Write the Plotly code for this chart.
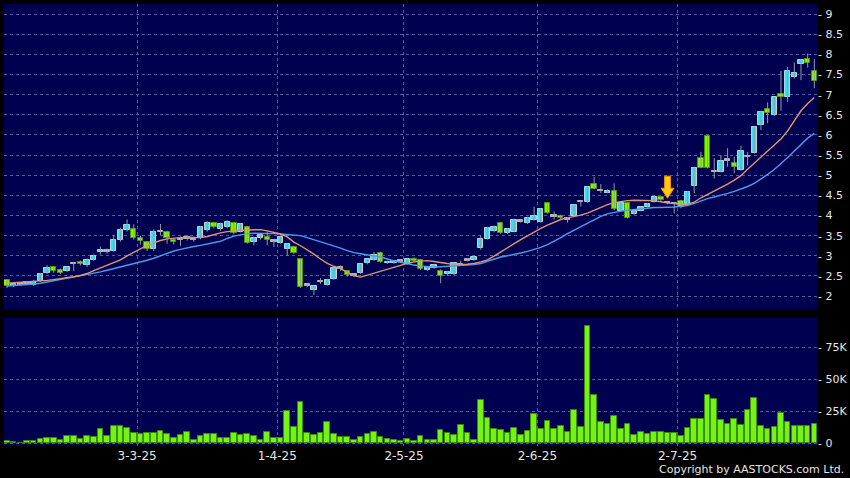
import plotly.graph_objects as go

# ---------------- data ----------------
opens = [2.40, 2.26, 2.30, 2.32, 2.28, 2.37, 2.57, 2.71, 2.66, 2.62,
         2.81, 2.85, 2.77, 2.90, 3.10, 3.12, 3.12, 3.40, 3.64, 3.66,
         3.44, 3.34, 3.17, 3.60, 3.58, 3.39, 3.41, 3.44, 3.40, 3.43,
         3.64, 3.81, 3.66, 3.71, 3.81, 3.60, 3.71, 3.35, 3.43, 3.46,
         3.37, 3.33, 3.16, 3.21, 2.91, 2.28, 2.16, 2.36, 2.28, 2.42,
         2.70, 2.62, 2.52, 2.57, 2.81, 2.90, 3.08, 2.82, 2.83, 2.87,
         2.80, 2.93, 2.90, 2.65, 2.70, 2.63, 2.54, 2.54, 2.79, 2.90,
         2.90, 3.19, 3.42, 3.61, 3.81, 3.56, 3.60, 3.86, 3.81, 3.90,
         3.85, 4.30, 3.99, 4.00, 3.91, 3.99, 4.35, 4.34, 4.78, 4.62,
         4.57, 4.62, 4.12, 4.30, 4.04, 4.12, 4.22, 4.34, 4.45, 4.32,
         4.30, 4.37, 4.29, 4.73, 5.44, 5.97, 5.09, 5.09, 5.38, 5.31,
         5.13, 5.46, 5.56, 6.25, 6.64, 6.49, 7.01, 6.93, 7.44, 7.76,
         7.88, 7.59]
highs = [2.42, 2.32, 2.33, 2.36, 2.40, 2.56, 2.77, 2.74, 2.68, 2.73,
         2.85, 2.88, 2.93, 3.03, 3.23, 3.18, 3.51, 3.70, 3.90, 3.78,
         3.50, 3.36, 3.66, 3.79, 3.62, 3.42, 3.48, 3.52, 3.46, 3.74,
         3.86, 3.84, 3.82, 3.88, 3.84, 3.80, 3.74, 3.47, 3.55, 3.60,
         3.42, 3.48, 3.31, 3.25, 2.92, 2.32, 2.26, 2.45, 2.43, 2.71,
         2.76, 2.64, 2.56, 2.80, 2.93, 3.10, 3.10, 2.88, 2.88, 2.92,
         2.93, 2.96, 2.92, 2.73, 2.80, 2.66, 2.62, 2.83, 2.88, 2.94,
         2.99, 3.50, 3.72, 3.75, 3.84, 3.68, 3.92, 3.90, 3.97, 4.22,
         4.17, 4.32, 4.10, 4.02, 3.96, 4.28, 4.37, 4.72, 4.96, 4.78,
         4.65, 4.80, 4.32, 4.32, 4.14, 4.22, 4.31, 4.49, 4.47, 4.34,
         4.33, 4.39, 4.61, 5.21, 5.58, 5.99, 5.42, 5.50, 5.67, 5.46,
         5.73, 5.58, 6.21, 6.60, 6.81, 6.95, 7.59, 7.69, 7.80, 7.88,
         8.02, 7.88]
lows = [2.20, 2.22, 2.27, 2.28, 2.25, 2.35, 2.55, 2.58, 2.55, 2.60,
        2.62, 2.76, 2.72, 2.88, 3.03, 3.05, 3.10, 3.35, 3.60, 3.40,
        3.28, 3.12, 3.12, 3.52, 3.30, 3.28, 3.25, 3.38, 3.35, 3.41,
        3.60, 3.68, 3.62, 3.68, 3.54, 3.58, 3.30, 3.26, 3.40, 3.26,
        3.22, 3.30, 3.00, 3.05, 2.20, 2.22, 2.03, 2.30, 2.26, 2.40,
        2.62, 2.48, 2.48, 2.55, 2.79, 2.88, 2.83, 2.80, 2.80, 2.82,
        2.78, 2.84, 2.65, 2.63, 2.68, 2.32, 2.50, 2.52, 2.76, 2.86,
        2.88, 3.15, 3.40, 3.58, 3.54, 3.54, 3.58, 3.82, 3.79, 3.88,
        3.83, 4.05, 3.90, 3.90, 3.82, 3.97, 4.22, 4.32, 4.65, 4.56,
        4.55, 4.13, 4.10, 3.93, 4.02, 4.10, 4.20, 4.32, 4.36, 4.28,
        4.05, 4.18, 4.27, 4.55, 5.17, 5.17, 4.92, 5.07, 5.21, 5.05,
        5.11, 5.24, 5.54, 6.12, 6.29, 6.47, 6.60, 6.82, 7.40, 7.36,
        7.67, 7.16]
closes = [2.26, 2.30, 2.30, 2.32, 2.36, 2.54, 2.69, 2.62, 2.58, 2.71,
          2.81, 2.80, 2.90, 3.00, 3.14, 3.12, 3.39, 3.64, 3.77, 3.44,
          3.36, 3.17, 3.60, 3.60, 3.44, 3.34, 3.41, 3.44, 3.40, 3.71,
          3.82, 3.72, 3.79, 3.85, 3.56, 3.78, 3.33, 3.43, 3.51, 3.39,
          3.37, 3.46, 3.29, 3.08, 2.22, 2.28, 2.25, 2.36, 2.41, 2.69,
          2.70, 2.53, 2.52, 2.79, 2.91, 3.01, 2.85, 2.85, 2.86, 2.87,
          2.91, 2.86, 2.67, 2.71, 2.77, 2.51, 2.59, 2.81, 2.79, 2.90,
          2.97, 3.42, 3.68, 3.72, 3.56, 3.66, 3.90, 3.86, 3.95, 3.99,
          4.15, 4.07, 3.99, 3.93, 3.91, 4.26, 4.35, 4.70, 4.67, 4.62,
          4.62, 4.15, 4.30, 3.95, 4.12, 4.20, 4.29, 4.47, 4.38, 4.32,
          4.30, 4.20, 4.59, 5.19, 5.19, 5.19, 5.09, 5.36, 5.38, 5.21,
          5.60, 5.46, 6.19, 6.58, 6.54, 6.93, 6.93, 7.59, 7.53, 7.86,
          7.79, 7.35]
volumes_k = [1.8, 1.0, 0.5, 1.5, 1.5, 3.4, 4.2, 4.2, 2.3, 6.0,
             5.7, 3.1, 5.5, 5.2, 11.2, 5.7, 13.3, 13.5, 12.2, 8.3,
             7.0, 7.8, 8.3, 9.4, 7.3, 3.9, 6.5, 8.6, 2.9, 5.7,
             7.0, 7.3, 3.9, 4.4, 8.1, 6.8, 7.3, 5.7, 2.6, 8.8,
             3.9, 4.4, 25.0, 12.8, 32.0, 7.8, 6.5, 7.8, 16.7, 7.3,
             5.0, 5.0, 2.3, 4.7, 7.6, 8.6, 5.0, 3.6, 2.3, 1.6,
             3.1, 2.0, 5.7, 2.3, 2.3, 10.2, 8.3, 6.8, 14.0, 8.1,
             2.9, 33.6, 20.0, 11.2, 10.4, 7.8, 11.7, 6.8, 9.6, 22.9,
             11.5, 17.5, 11.5, 13.3, 9.1, 26.3, 12.8, 92.0, 38.0, 16.9,
             14.8, 21.6, 11.2, 14.8, 6.5, 8.6, 7.0, 8.6, 8.6, 8.3,
             8.3, 6.0, 12.0, 19.0, 19.0, 37.5, 34.4, 18.0, 15.1, 19.0,
             14.3, 25.8, 35.2, 13.5, 11.5, 12.5, 23.7, 16.9, 13.5, 13.5,
             13.5, 15.4]
ma_short = [2.32, 2.33, 2.34, 2.35, 2.36, 2.37, 2.39, 2.41, 2.43, 2.45,
            2.48, 2.51, 2.56, 2.63, 2.70, 2.76, 2.82, 2.90, 3.00, 3.09,
            3.18, 3.26, 3.32, 3.38, 3.42, 3.44, 3.45, 3.46, 3.45, 3.45,
            3.48, 3.53, 3.57, 3.60, 3.62, 3.63, 3.64, 3.65, 3.65, 3.62,
            3.58, 3.54, 3.47, 3.34, 3.25, 3.15, 3.04, 2.92, 2.81, 2.74,
            2.68, 2.59, 2.50, 2.47, 2.52, 2.57, 2.62, 2.67, 2.72, 2.77,
            2.81, 2.85, 2.87, 2.88, 2.86, 2.83, 2.81, 2.79, 2.78, 2.79,
            2.81, 2.85, 2.90, 2.99, 3.10, 3.19, 3.30, 3.40, 3.50, 3.60,
            3.68, 3.76, 3.84, 3.90, 3.94, 3.97, 4.01, 4.06, 4.13, 4.21,
            4.27, 4.32, 4.35, 4.37, 4.38, 4.38, 4.38, 4.37, 4.34, 4.31,
            4.30, 4.28, 4.28, 4.33, 4.44, 4.52, 4.61, 4.70, 4.78, 4.88,
            4.99, 5.15, 5.30, 5.45, 5.60, 5.75, 5.90, 6.10, 6.35, 6.60,
            6.78, 6.93]
ma_long = [2.25, 2.26, 2.27, 2.28, 2.30, 2.32, 2.35, 2.38, 2.41, 2.44,
           2.47, 2.50, 2.53, 2.56, 2.60, 2.64, 2.68, 2.72, 2.77, 2.81,
           2.85, 2.89, 2.94, 3.00, 3.07, 3.12, 3.16, 3.20, 3.23, 3.26,
           3.29, 3.32, 3.36, 3.43, 3.49, 3.52, 3.55, 3.56, 3.56, 3.56,
           3.55, 3.54, 3.53, 3.52, 3.50, 3.45, 3.40, 3.35, 3.29, 3.24,
           3.19, 3.13, 3.08, 3.05, 3.02, 3.00, 2.97, 2.92, 2.87, 2.84,
           2.80, 2.77, 2.75, 2.73, 2.72, 2.73, 2.74, 2.75, 2.76, 2.77,
           2.78, 2.81, 2.86, 2.92, 2.97, 3.00, 3.03, 3.07, 3.11, 3.16,
           3.21, 3.28, 3.36, 3.45, 3.55, 3.64, 3.72, 3.81, 3.90, 3.98,
           4.04, 4.08, 4.11, 4.13, 4.15, 4.17, 4.19, 4.20, 4.20, 4.20,
           4.21, 4.23, 4.25, 4.30, 4.36, 4.42, 4.46, 4.50, 4.55, 4.60,
           4.66, 4.72, 4.80, 4.90, 5.02, 5.14, 5.28, 5.44, 5.60, 5.76,
           5.92, 6.04]

month_tick_pos = [19.5, 40.5, 59.5, 79.5, 100.5]
month_tick_labels = ["3-3-25", "1-4-25", "2-5-25", "2-6-25", "2-7-25"]
price_tick_vals = [2, 2.5, 3, 3.5, 4, 4.5, 5, 5.5, 6, 6.5, 7, 7.5, 8, 8.5, 9]
price_tick_labels = ["2", "2.5", "3", "3.5", "4", "4.5", "5", "5.5", "6",
                     "6.5", "7", "7.5", "8", "8.5", "9"]
vol_tick_vals = [0, 25, 50, 75]
vol_tick_labels = ["0", "25K", "50K", "75K"]
arrow_index = 99
arrow_tip_price = 4.43

# ---------------- styling ----------------
BG = "#000050"
GRID = "#5a5a96"
TXT = "#e6e6e6"
UP_FILL, UP_LINE = "#3ddcf0", "#a8dce4"
DN_FILL, DN_LINE = "#80f400", "#4a9400"
DOJI = "#b8b8b8"
WICK = "#9a9a9a"
VOL_FILL, VOL_LINE = "#74f414", "#3c8c00"
FONT = "DejaVu Sans"

x = list(range(len(closes)))

wick_x, wick_y = [], []
for i in x:
    wick_x += [i, i, None]
    wick_y += [lows[i], highs[i], None]

body_base, body_h, body_fill, body_line = [], [], [], []
for o, c in zip(opens, closes):
    if c > o:
        body_base.append(o); body_h.append(c - o)
        body_fill.append(UP_FILL); body_line.append(UP_LINE)
    elif c < o:
        body_base.append(c); body_h.append(o - c)
        body_fill.append(DN_FILL); body_line.append(DN_LINE)
    else:
        body_base.append(o - 0.018); body_h.append(0.036)
        body_fill.append(DOJI); body_line.append(DOJI)

fig = go.Figure()
fig.add_trace(go.Scatter(x=x, y=ma_long, mode="lines", xaxis="x", yaxis="y",
                         line=dict(color="#4a9cf0", width=1.4), hoverinfo="skip"))
fig.add_trace(go.Scatter(x=x, y=ma_short, mode="lines", xaxis="x", yaxis="y",
                         line=dict(color="#e39478", width=1.4), hoverinfo="skip"))
fig.add_trace(go.Scatter(x=wick_x, y=wick_y, mode="lines", xaxis="x", yaxis="y",
                         line=dict(color=WICK, width=1), hoverinfo="skip"))
fig.add_trace(go.Bar(x=x, y=body_h, base=body_base, width=0.8, xaxis="x", yaxis="y",
                     marker=dict(color=body_fill, line=dict(color=body_line, width=1))))
fig.add_trace(go.Bar(x=x, y=volumes_k, width=0.84, xaxis="x2", yaxis="y2",
                     marker=dict(color=VOL_FILL, line=dict(color=VOL_LINE, width=1))))

xrange = [-0.45, 121.4]
common_x = dict(range=xrange, tickvals=month_tick_pos, showgrid=True, gridcolor=GRID,
                griddash="dot", gridwidth=1, zeroline=False, showline=False,
                fixedrange=True, automargin=False)
common_y = dict(side="right", showgrid=True, gridcolor=GRID, griddash="dot", gridwidth=1,
                zeroline=False, showline=False, ticks="", automargin=False,
                tickfont=dict(family=FONT, size=11, color=TXT))

fig.update_layout(
    width=850, height=478,
    margin=dict(l=4, r=33, t=4, b=32, autoexpand=False),
    paper_bgcolor="black", plot_bgcolor=BG,
    showlegend=False, barmode="overlay", bargap=0,
    xaxis=dict(domain=[0, 1], anchor="y", showticklabels=False, ticks="", **common_x),
    xaxis2=dict(domain=[0, 1], anchor="y2", matches="x", ticktext=month_tick_labels,
                ticks="", ticklabelstandoff=1,
                tickfont=dict(family=FONT, size=12, color=TXT), **common_x),
    xaxis3=dict(domain=[0, 1], anchor="y2", overlaying="x2", range=xrange,
                tickvals=month_tick_pos, showticklabels=False, ticks="outside",
                ticklen=3, tickcolor="#aaaaaa", showgrid=False, zeroline=False,
                showline=False, fixedrange=True),
    yaxis=dict(domain=[0.31, 1], anchor="x", range=[1.68, 9.25],
               tickvals=price_tick_vals, ticktext=["- " + t for t in price_tick_labels],
               **common_y),
    yaxis2=dict(domain=[0, 0.2896], anchor="x2", range=[-2.1, 97.9],
                tickvals=vol_tick_vals, ticktext=["- " + t for t in vol_tick_labels],
                **common_y),
    shapes=[dict(type="path", xref="x", yref="y", xsizemode="pixel", ysizemode="pixel",
                 xanchor=arrow_index, yanchor=arrow_tip_price,
                 path="M 0 0 L -6.5 10 L -3 10 L -3 22 L 3 22 L 3 10 L 6.5 10 Z",
                 fillcolor="#ffcc10", line=dict(color="#f08a00", width=1), layer="above")],
    annotations=[dict(text="Copyright by AASTOCKS.com Ltd.", xref="paper", yref="paper",
                      x=1, y=0, xanchor="right", yanchor="bottom", xshift=29, yshift=-31.5,
                      showarrow=False, font=dict(family=FONT, size=11, color=TXT))],
)

fig.write_html("out.html", config={"displayModeBar": False},
               post_script="document.body.style.margin='0';document.body.style.overflow='hidden';")
